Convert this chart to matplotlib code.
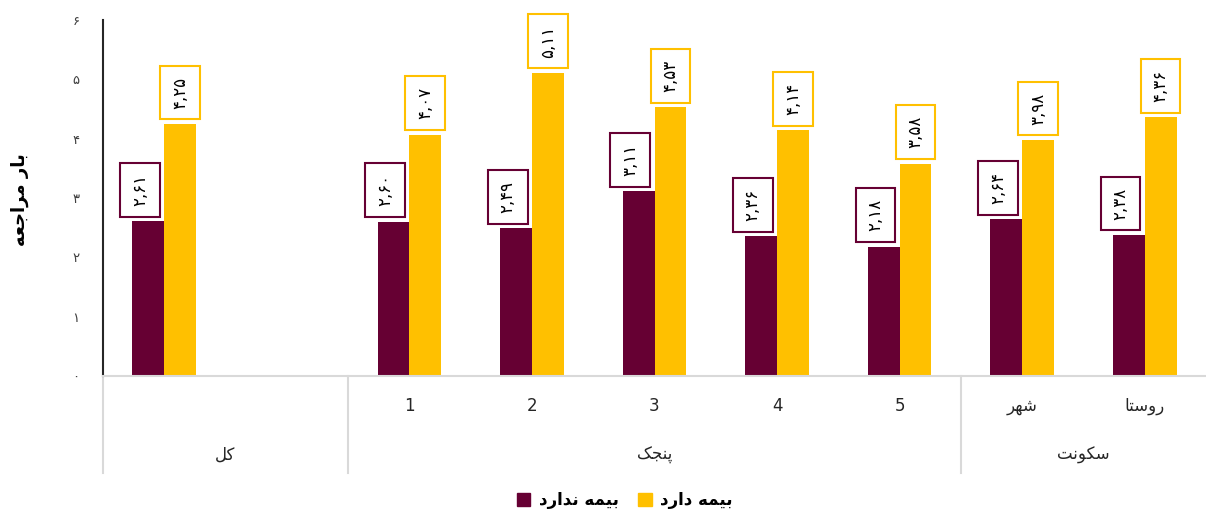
import matplotlib
matplotlib.use("Agg")
import matplotlib.pyplot as plt
from matplotlib.patches import Patch
from matplotlib.lines import Line2D
import numpy as np

# data
categories = ['کل', '', '1', '2', '3', '4', '5', 'شهر', 'روستا']
no_insurance = [2.61, np.nan, 2.60, 2.49, 3.11, 2.36, 2.18, 2.64, 2.38]
insurance = [4.25, np.nan, 4.07, 5.11, 4.53, 4.14, 3.58, 3.98, 4.36]
groups = [('کل', 0, 2), ('پنجک', 2, 7), ('سکونت', 7, 9)]
series_names = ['بیمه ندارد', 'بیمه دارد']
y_label = 'بار مراجعه'

MAROON = '#660033'
YELLOW = '#FFC000'

# minimal persian shaping (no arabic_reshaper available)
DUAL = {
    'ب': (0xFE8F, 0xFE90, 0xFE91, 0xFE92),
    'ت': (0xFE95, 0xFE96, 0xFE97, 0xFE98),
    'ج': (0xFE9D, 0xFE9E, 0xFE9F, 0xFEA0),
    'س': (0xFEB1, 0xFEB2, 0xFEB3, 0xFEB4),
    'ش': (0xFEB5, 0xFEB6, 0xFEB7, 0xFEB8),
    'ع': (0xFEC9, 0xFECA, 0xFECB, 0xFECC),
    'ل': (0xFEDD, 0xFEDE, 0xFEDF, 0xFEE0),
    'م': (0xFEE1, 0xFEE2, 0xFEE3, 0xFEE4),
    'ن': (0xFEE5, 0xFEE6, 0xFEE7, 0xFEE8),
    'ه': (0xFEE9, 0xFEEA, 0xFEEB, 0xFEEC),
    'پ': (0xFB56, 0xFB57, 0xFB58, 0xFB59),
    'ک': (0xFB8E, 0xFB8F, 0xFB90, 0xFB91),
    'ی': (0xFBFC, 0xFBFD, 0xFBFE, 0xFBFF),
}
RIGHT = {
    'ا': (0xFE8D, 0xFE8E),
    'د': (0xFEA9, 0xFEAA),
    'ر': (0xFEAD, 0xFEAE),
    'و': (0xFEED, 0xFEEE),
}


def fa(text):
    out = []
    for i, ch in enumerate(text):
        prev = text[i - 1] if i > 0 else ''
        nxt = text[i + 1] if i < len(text) - 1 else ''
        join_prev = prev in DUAL
        join_next = ch in DUAL and (nxt in DUAL or nxt in RIGHT)
        if ch in DUAL:
            f = DUAL[ch]
            idx = 3 if (join_prev and join_next) else 1 if join_prev else 2 if join_next else 0
            out.append(chr(f[idx]))
        elif ch in RIGHT:
            out.append(chr(RIGHT[ch][1 if join_prev else 0]))
        else:
            out.append(ch)
    if any(c in DUAL or c in RIGHT for c in text):
        return ''.join(out[::-1])
    return text


FA_DIGITS = str.maketrans('0123456789.', '۰۱۲۳۴۵۶۷۸۹,')


def fa_num(v):
    return f'{v:.2f}'.translate(FA_DIGITS)


plt.rcParams['font.family'] = ['DejaVu Sans']

fig = plt.figure(figsize=(12.06, 5.19), dpi=100)
ax = fig.add_axes([103 / 1206, (519 - 376) / 519, 1 - 103 / 1206, (376 - 20) / 519])

x = np.arange(len(categories))
w = 0.26
ax.bar(x - w / 2, no_insurance, w, color=MAROON)
ax.bar(x + w / 2, insurance, w, color=YELLOW)

for xi, v in zip(x, no_insurance):
    if np.isnan(v):
        continue
    ax.annotate(fa_num(v), (xi - w / 2, v), xytext=(-6, 11), textcoords='offset points',
                rotation=90, ha='center', va='bottom', fontsize=12,
                bbox=dict(boxstyle='square,pad=0.65', fc='white', ec=MAROON, lw=1.5))
for xi, v in zip(x, insurance):
    if np.isnan(v):
        continue
    ax.annotate(fa_num(v), (xi + w / 2, v), xytext=(0, 11), textcoords='offset points',
                rotation=90, ha='center', va='bottom', fontsize=12,
                bbox=dict(boxstyle='square,pad=0.65', fc='white', ec=YELLOW, lw=1.5))

ax.set_xlim(-0.5, len(categories) - 0.5)
ax.set_ylim(0, 6)
ax.set_yticks(range(7))
ax.set_yticklabels([str(t).translate(FA_DIGITS) for t in range(7)])
ax.tick_params(axis='y', length=0, pad=17, labelsize=9.5, colors='#404040')
ax.set_xticks([])

for s in ['top', 'right']:
    ax.spines[s].set_visible(False)
ax.spines['left'].set_color('#262626')
ax.spines['left'].set_linewidth(1.5)
ax.spines['bottom'].set_color('#d9d9d9')
ax.spines['bottom'].set_linewidth(1.5)

# two level category axis
tr = ax.get_xaxis_transform()
for xi, lab in zip(x, categories):
    if lab and lab != groups[0][0]:
        ax.text(xi, -0.085, fa(lab), transform=tr, ha='center', va='center',
                fontsize=12, color='#262626')
for name, start, end in groups:
    ax.text((start + end - 1) / 2, -0.222, fa(name), transform=tr, ha='center',
            va='center', fontsize=12, color='#262626')
for b in [g[1] for g in groups]:
    ax.add_line(Line2D([b - 0.5, b - 0.5], [0, -0.272], transform=tr,
                       color='#d9d9d9', lw=1.5, clip_on=False))

fig.text(20 / 1206, 1 - 200 / 519, fa(y_label), rotation=90, ha='center', va='center',
         fontsize=13, fontweight='bold')

handles = [Patch(color=MAROON), Patch(color=YELLOW)]
fig.legend(handles, [fa(n) for n in series_names], loc='lower center', ncol=2,
           frameon=False, bbox_to_anchor=(0.518, -0.01), handlelength=0.8,
           handleheight=0.8, handletextpad=0.5, columnspacing=1.2,
           prop={'weight': 'bold', 'size': 12})

fig.savefig('out.png', dpi=100)
